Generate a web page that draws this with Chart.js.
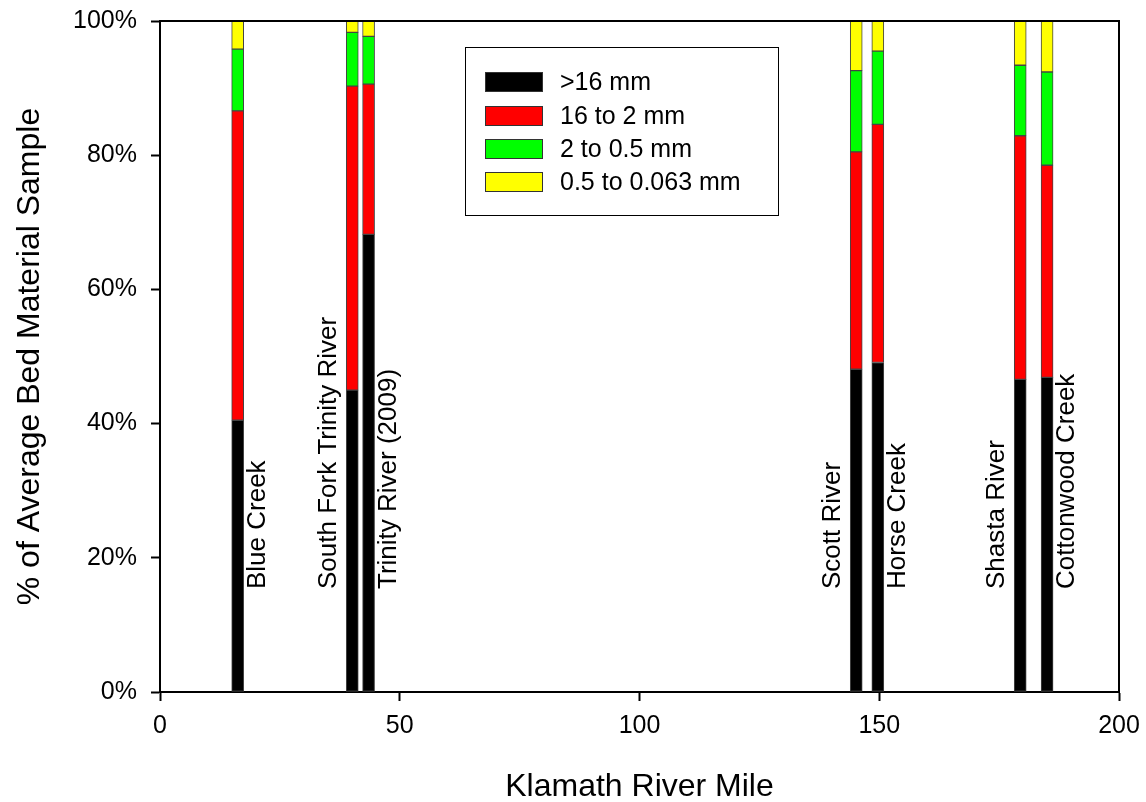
<!DOCTYPE html>
<html>
<head>
<meta charset="utf-8">
<script src="https://cdn.jsdelivr.net/npm/chart.js@4.4.0/dist/chart.umd.min.js"></script>
<style>
  body { margin: 0; background: #fff; }
  #wrap { width: 1146px; height: 802px; }
</style>
</head>
<body>
<div id="wrap"><canvas id="chart"></canvas></div>
<script>
// ==== Data ====
const sites = ['Blue Creek', 'South Fork Trinity River', 'Trinity River (2009)', 'Scott River', 'Horse Creek', 'Shasta River', 'Cottonwood Creek'];
const riverMile = [16.2, 40.1, 43.5, 145.2, 149.7, 179.4, 185.0];
const over16 = [40.5, 45.0, 68.2, 48.1, 49.1, 46.6, 46.9];
const mm16to2 = [46.1, 45.3, 22.4, 32.4, 35.5, 36.3, 31.6];
const mm2to05 = [9.2, 8.0, 7.1, 12.1, 10.9, 10.5, 13.9];
const mm05to0063 = [4.2, 1.7, 2.3, 7.4, 4.5, 6.6, 7.6];
const seriesNames = ['>16 mm', '16 to 2 mm', '2 to 0.5 mm', '0.5 to 0.063 mm'];
const xTicks = [0, 50, 100, 150, 200];
const yTicks = [0, 20, 40, 60, 80, 100];

const FONT = "'Liberation Sans', Arial, sans-serif";
const colors = ['#000000', '#ff0000', '#00ff00', '#ffff00'];
const labelSide = [1, -1, 1, -1, 1, -1, 1]; // right / left of the bar

function pts(vals) {
  return riverMile.map((m, i) => ({ x: m, y: vals[i] }));
}

// legend box inside the plot
const legendBox = {
  id: 'legendBox',
  afterDraw(chart) {
    const ctx = chart.ctx;
    ctx.save();
    ctx.strokeStyle = '#000';
    ctx.lineWidth = 1;
    ctx.strokeRect(465.5, 47.5, 313, 168);
    ctx.font = '25px ' + FONT;
    ctx.textBaseline = 'middle';
    ctx.textAlign = 'left';
    const rows = [82, 116, 149, 182];
    seriesNames.forEach((name, i) => {
      ctx.fillStyle = colors[i];
      ctx.fillRect(485, rows[i] - 10, 58, 20);
      ctx.strokeStyle = '#333';
      ctx.strokeRect(485.5, rows[i] - 9.5, 57, 19);
      ctx.fillStyle = '#000';
      ctx.fillText(name, 560, rows[i] + 1);
    });
    ctx.restore();
  }
};

// top and right frame + site names beside the bars
const extras = {
  id: 'extras',
  afterDatasetsDraw(chart) {
    const ctx = chart.ctx;
    const a = chart.chartArea;
    const xs = chart.scales.x;
    ctx.save();
    ctx.strokeStyle = '#000';
    ctx.lineWidth = 2;
    ctx.beginPath();
    ctx.moveTo(a.left, a.top);
    ctx.lineTo(a.right, a.top);
    ctx.lineTo(a.right, a.bottom);
    ctx.stroke();

    ctx.font = '26px ' + FONT;
    ctx.fillStyle = '#000';
    ctx.textBaseline = 'middle';
    ctx.textAlign = 'left';
    sites.forEach((s, i) => {
      const px = xs.getPixelForValue(riverMile[i]) + labelSide[i] * (labelSide[i] > 0 ? 20 : 23);
      ctx.save();
      ctx.translate(px, 589);
      ctx.rotate(-Math.PI / 2);
      ctx.fillText(s, 0, 0);
      ctx.restore();
    });
    ctx.restore();
  }
};

const ctx = document.getElementById('chart').getContext('2d');
const datasets = [over16, mm16to2, mm2to05, mm05to0063].map((vals, i) => ({
  label: seriesNames[i],
  data: pts(vals),
  backgroundColor: colors[i],
  borderColor: '#444',
  borderWidth: 1,
  borderSkipped: false,
  barThickness: 12
}));

new Chart(ctx, {
  type: 'bar',
  data: { datasets },
  options: {
    responsive: true,
    maintainAspectRatio: false,
    animation: false,
    layout: { padding: { top: 21, right: 27, left: 0, bottom: 0 } },
    plugins: { legend: { display: false }, tooltip: { enabled: false } },
    scales: {
      x: {
        type: 'linear', stacked: true, min: 0, max: 200, offset: false,
        afterFit: s => { s.height = 110; s.paddingLeft = 0; s.paddingRight = 0; },
        afterBuildTicks: s => { s.ticks = xTicks.map(v => ({ value: v })); },
        grid: { offset: false, drawOnChartArea: false, drawTicks: true, tickLength: 9, tickColor: '#000', tickWidth: 2 },
        border: { display: true, color: '#000', width: 2 },
        ticks: { color: '#000', font: { family: FONT, size: 25 }, padding: 10, maxRotation: 0 },
        title: { display: true, text: 'Klamath River Mile', color: '#000', font: { family: FONT, size: 32 }, padding: { bottom: -4 } }
      },
      y: {
        stacked: true, min: 0, max: 100,
        afterFit: s => { s.width = 160; s.paddingTop = 0; s.paddingBottom = 0; },
        afterBuildTicks: s => { s.ticks = yTicks.map(v => ({ value: v })); },
        grid: { drawOnChartArea: false, drawTicks: true, tickLength: 9, tickColor: '#000', tickWidth: 2 },
        border: { display: true, color: '#000', width: 2 },
        ticks: { color: '#000', font: { family: FONT, size: 25 }, padding: 14, callback: v => v + '%' },
        title: { display: true, text: '% of Average Bed Material Sample', color: '#000', font: { family: FONT, size: 32 }, padding: { top: 11 } }
      }
    }
  },
  plugins: [extras, legendBox]
});
</script>
</body>
</html>
